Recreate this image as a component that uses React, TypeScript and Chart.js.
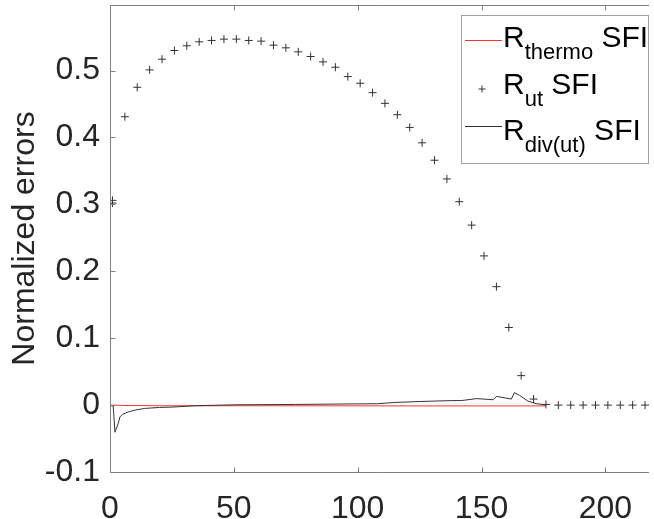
import React, { useEffect, useRef } from "react";
import { Chart, registerables } from "chart.js";

Chart.register(...registerables);

// R_ut SFI (plus markers)
const UT_X = [1, 1, 6, 11, 16, 21, 26, 31, 36, 41, 46, 51, 56, 61, 66, 71, 76, 81, 86, 91, 96, 101, 106, 111, 116, 121, 126, 131, 136, 141, 146, 151, 156, 161, 166, 171, 176, 181, 186, 191, 196, 201, 206, 211, 216];
const UT_Y = [0.306, 0.302, 0.431, 0.475, 0.501, 0.517, 0.53, 0.537, 0.543, 0.545, 0.547, 0.547, 0.545, 0.544, 0.538, 0.534, 0.528, 0.521, 0.513, 0.505, 0.491, 0.481, 0.467, 0.451, 0.434, 0.415, 0.392, 0.366, 0.338, 0.304, 0.269, 0.223, 0.177, 0.116, 0.044, 0.009, 0.001, 0, 0, 0, 0, 0, 0, 0, 0];

// R_thermo SFI (red line)
const THERMO_X = [0, 5, 20, 60, 120, 176];
const THERMO_Y = [0, -0.0005, -0.001, -0.001, -0.0012, -0.0012];

// R_div(ut) SFI (black line)
const DIV_X = [0, 1.3, 2, 3.3, 4, 5, 7.3, 10, 14, 20, 25, 34, 50, 75, 100, 108, 115, 128, 138, 142, 148, 154.7, 156, 162, 163.3, 165.3, 168.7, 172, 174.7, 176];
const DIV_Y = [0, -0.002, -0.0405, -0.0276, -0.0177, -0.014, -0.0103, -0.0075, -0.005, -0.0035, -0.003, -0.001, 0.0004, 0.001, 0.0018, 0.002, 0.004, 0.0057, 0.0067, 0.0068, 0.0097, 0.008, 0.013, 0.009, 0.0186, 0.0146, 0.006, 0.0022, 0.0008, 0];

const X_TICKS = [0, 50, 100, 150, 200];
const Y_TICKS = [-0.1, 0, 0.1, 0.2, 0.3, 0.4, 0.5];
const X_MIN = 0;
const X_MAX = 217.6;
const Y_MIN = -0.1;
const Y_MAX = 0.598;

const FONT = "'Liberation Sans', Arial, Helvetica, sans-serif";
const TEXT = "#262626";
const AXIS = "#808080";

const toPts = (xs: number[], ys: number[]) => xs.map((x, i) => ({ x, y: ys[i] }));

const axesPlugin = {
  id: "matlabAxes",
  afterDatasetsDraw(chart: any) {
    const { ctx, chartArea: a, scales } = chart;
    const xs = scales.x;
    const ys = scales.y;
    ctx.save();
    ctx.strokeStyle = AXIS;
    ctx.lineWidth = 1;
    ctx.beginPath();
    const L = Math.round(a.left) + 0.5;
    const B = Math.round(a.bottom) + 0.5;
    const T = Math.round(a.top) + 0.5;
    ctx.moveTo(L, T);
    ctx.lineTo(L, B);
    ctx.lineTo(a.right, B);
    ctx.moveTo(L, T);
    ctx.lineTo(a.right, T);
    const tl = 5;
    X_TICKS.forEach((v) => {
      const px = Math.round(xs.getPixelForValue(v)) + 0.5;
      ctx.moveTo(px, B);
      ctx.lineTo(px, B - tl);
      ctx.moveTo(px, T);
      ctx.lineTo(px, T + tl);
    });
    Y_TICKS.forEach((v) => {
      const py = Math.round(ys.getPixelForValue(v)) + 0.5;
      ctx.moveTo(L, py);
      ctx.lineTo(L + tl, py);
    });
    ctx.stroke();
    ctx.restore();
  },
  afterDraw(chart: any) {
    const { ctx } = chart;
    ctx.save();
    // legend box
    const bx = 461.5, by = 15.5, bw = 187, bh = 148;
    ctx.fillStyle = "#ffffff";
    ctx.fillRect(bx, by, bw, bh);
    ctx.strokeStyle = "#a0a0a0";
    ctx.lineWidth = 1;
    ctx.strokeRect(bx, by, bw, bh);

    const rows = [
      { sub: "thermo", base: 47, kind: "line", color: "#ff3030", sy: 40.5 },
      { sub: "ut", base: 94, kind: "plus", color: "#333333", sy: 89 },
      { sub: "div(ut)", base: 140, kind: "line", color: "#333333", sy: 126.5 },
    ];
    rows.forEach((r) => {
      ctx.strokeStyle = r.color;
      ctx.lineWidth = 1;
      ctx.beginPath();
      if (r.kind === "line") {
        ctx.moveTo(465, r.sy);
        ctx.lineTo(502, r.sy);
      } else {
        ctx.moveTo(478.5, r.sy);
        ctx.lineTo(485.5, r.sy);
        ctx.moveTo(482, r.sy - 3.5);
        ctx.lineTo(482, r.sy + 3.5);
      }
      ctx.stroke();
      ctx.fillStyle = "#000000";
      ctx.textBaseline = "alphabetic";
      ctx.textAlign = "left";
      let x = 503;
      ctx.font = `30px ${FONT}`;
      ctx.fillText("R", x, r.base);
      x += ctx.measureText("R").width;
      ctx.font = `22px ${FONT}`;
      ctx.fillText(r.sub, x, r.base + 12);
      x += ctx.measureText(r.sub).width;
      ctx.font = `30px ${FONT}`;
      ctx.fillText(" SFI", x, r.base);
    });
    ctx.restore();
  },
};

export default function App() {
  const ref = useRef<HTMLCanvasElement | null>(null);
  useEffect(() => {
    document.body.style.margin = "0";
    if (!ref.current) return;
    const chart = new Chart(ref.current, {
      type: "scatter",
      data: {
        datasets: [
          {
            label: "R_thermo SFI",
            data: toPts(THERMO_X, THERMO_Y),
            showLine: true,
            borderColor: "#ff3030",
            borderWidth: 1,
            pointRadius: 0,
            order: 3,
          },
          {
            label: "R_div(ut) SFI",
            data: toPts(DIV_X, DIV_Y),
            showLine: true,
            borderColor: "#333333",
            borderWidth: 1,
            pointRadius: 0,
            order: 2,
          },
          {
            label: "R_ut SFI",
            data: toPts(UT_X, UT_Y),
            showLine: false,
            pointStyle: "cross",
            pointRadius: 4,
            borderColor: "#333333",
            backgroundColor: "#333333",
            borderWidth: 1,
            order: 1,
          },
        ],
      },
      options: {
        animation: false,
        responsive: false,
        maintainAspectRatio: false,
        layout: { padding: { top: 3, right: 0, left: 0, bottom: 0 } },
        plugins: { legend: { display: false }, tooltip: { enabled: false } },
        scales: {
          x: {
            type: "linear",
            min: X_MIN,
            max: X_MAX,
            grid: { display: false, drawTicks: false },
            border: { display: false },
            ticks: {
              font: { family: FONT, size: 32 },
              color: TEXT,
              padding: 18,
              maxRotation: 0,
              callback: (v: any) => String(v),
            },
            afterBuildTicks: (s: any) => {
              s.ticks = X_TICKS.map((value) => ({ value }));
            },
            afterFit: (s: any) => {
              s.height = 47;
              s.paddingLeft = 0;
              s.paddingRight = 0;
            },
          },
          y: {
            type: "linear",
            min: Y_MIN,
            max: Y_MAX,
            grid: { display: false, drawTicks: false },
            border: { display: false },
            ticks: {
              font: { family: FONT, size: 32 },
              color: TEXT,
              padding: 10,
              callback: (v: any) => String(Number(Number(v).toFixed(1))),
            },
            afterBuildTicks: (s: any) => {
              s.ticks = Y_TICKS.map((value) => ({ value }));
            },
            afterFit: (s: any) => {
              s.width = 110;
              s.paddingTop = 0;
              s.paddingBottom = 0;
            },
            title: {
              display: true,
              text: "Normalized errors",
              font: { family: FONT, size: 32 },
              color: TEXT,
              padding: { top: 6, bottom: 0 },
            },
          },
        },
      },
      plugins: [axesPlugin],
    });
    return () => chart.destroy();
  }, []);
  return (
    <div style={{ width: 654, height: 519 }}>
      <canvas ref={ref} width={654} height={519} style={{ width: 654, height: 519, display: "block" }} />
    </div>
  );
}
